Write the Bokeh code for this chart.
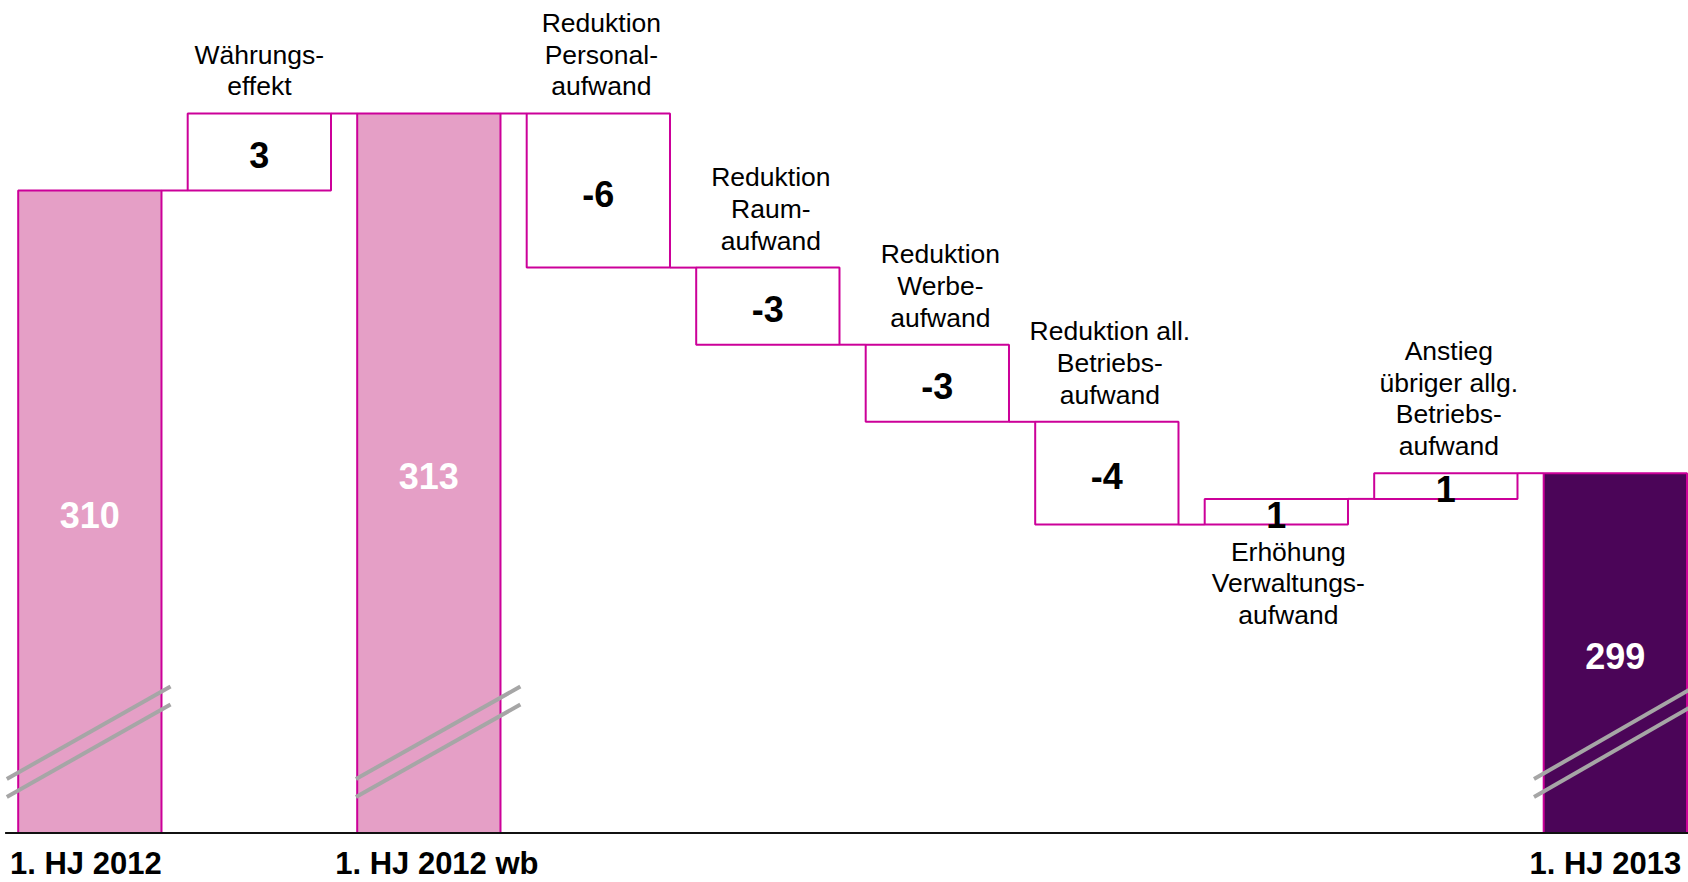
from bokeh.plotting import figure
from bokeh.models import ColumnDataSource, Range1d
from bokeh.core.properties import value
from bokeh.embed import file_html
from bokeh.resources import INLINE

# ---------------- data ----------------
categories = [
    "1. HJ 2012",
    "Währungs-\neffekt",
    "1. HJ 2012 wb",
    "Reduktion\nPersonal-\naufwand",
    "Reduktion\nRaum-\naufwand",
    "Reduktion\nWerbe-\naufwand",
    "Reduktion all.\nBetriebs-\naufwand",
    "Erhöhung\nVerwaltungs-\naufwand",
    "Anstieg\nübriger allg.\nBetriebs-\naufwand",
    "1. HJ 2013",
]
values = [310, 3, 313, -6, -3, -3, -4, 1, 1, 299]
is_total = [True, False, True, False, False, False, False, False, False, True]
label_below = [False, False, False, False, False, False, False, True, False, False]
axis_start = 285

# ---------------- style ----------------
FONT = "Liberation Sans"
PINK = "#E59FC6"
MAGENTA = "#CC0099"
DARK = "#4B0558"
GREY = "#A6A6A6"
BAR_W = 0.8454
LINE_H = 31.8      # px between label lines
GAP = 27           # px from box edge to nearest label line centre

n = len(values)
xs = list(range(n))

bottoms, tops, fills, levels = [], [], [], []
running = None
for i, v in enumerate(values):
    if is_total[i]:
        b, t = axis_start, v
        running = v
        fills.append(DARK if i == n - 1 else PINK)
    else:
        start = running
        running = running + v
        b, t = min(start, running), max(start, running)
        fills.append("white")
    bottoms.append(b)
    tops.append(t)
    levels.append(running)

p = figure(width=1688, height=882,
           x_range=Range1d(-0.5271, 9.4316), y_range=Range1d(283.074, 317.393),
           output_backend="svg", toolbar_location=None,
           x_axis_location=None, y_axis_location=None,
           min_border=0, min_border_left=0, min_border_right=0,
           min_border_top=0, min_border_bottom=0)
p.grid.visible = False
p.outline_line_color = None
p.background_fill_color = "white"

bars = ColumnDataSource(dict(x=xs, bottom=bottoms, top=tops, fill=fills))
p.vbar(x="x", width=BAR_W, bottom="bottom", top="top", fill_color="fill",
       line_color=MAGENTA, line_width=2, source=bars)

# connectors between consecutive elements
cx0 = [i + BAR_W / 2 for i in range(n - 1)]
cx1 = [i + 1 - BAR_W / 2 for i in range(n - 1)]
cy = levels[:-1]
p.segment(x0=cx0, y0=cy, x1=cx1, y1=cy, line_color=MAGENTA, line_width=2)

# baseline
p.segment(x0=[-0.5], y0=[axis_start], x1=[9.6], y1=[axis_start],
          line_color="#111111", line_width=2)

# axis-break marks on total bars
total_idx = [i for i in range(n) if is_total[i]]
brk_extent = {0: (-0.49, 0.476), 2: (-0.43, 0.54), 9: (-0.48, 0.47)}
bx0, bx1, by0, by1 = [], [], [], []
for i in total_idx:
    l, r = brk_extent[i]
    for (ya, yb) in [(287.1, 290.7), (286.4, 290.0)]:
        bx0.append(i + l); bx1.append(i + r)
        by0.append(ya); by1.append(yb)
p.segment(x0=bx0, y0=by0, x1=bx1, y1=by1, line_color=GREY, line_width=4)

# value labels
vsrc = ColumnDataSource(dict(
    x=xs,
    y=[(b + t) / 2 for b, t in zip(bottoms, tops)],
    text=[str(v) for v in values],
    color=["white" if is_total[i] else "black" for i in range(n)],
))
p.text(x="x", y="y", text="text", source=vsrc, text_color="color",
       text_font=value(FONT), text_font_style="bold", text_font_size="36px",
       text_align="center", text_baseline="middle", y_offset=3)

# category labels for deltas (one glyph per line)
lx, ly, lt, lyo, lxo = [], [], [], [], []
for i in range(n):
    if is_total[i]:
        continue
    lines = categories[i].split("\n")
    k = len(lines)
    for j, line in enumerate(lines):
        lx.append(i)
        lt.append(line)
        if label_below[i]:
            ly.append(bottoms[i])
            lyo.append(GAP + j * LINE_H)
            lxo.append(12)
        else:
            ly.append(tops[i])
            lyo.append(-(GAP + (k - 1 - j) * LINE_H))
            lxo.append(3 if i != 1 else 0)
lsrc = ColumnDataSource(dict(x=lx, y=ly, text=lt, yo=lyo, xo=lxo))
p.text(x="x", y="y", text="text", source=lsrc, x_offset="xo", y_offset="yo",
       text_font=value(FONT), text_font_size="26.5px", text_color="black",
       text_align="center", text_baseline="middle")

# bottom category labels for totals
bsrc = ColumnDataSource(dict(
    x=total_idx,
    y=[axis_start] * len(total_idx),
    text=[categories[i] for i in total_idx],
    xo=[-4, 8, -10],
))
p.text(x="x", y="y", text="text", source=bsrc, x_offset="xo", y_offset=30,
       text_font=value(FONT), text_font_style="bold", text_font_size="31px",
       text_color="black", text_align="center", text_baseline="middle")

open("out.html", "w").write(file_html(p, INLINE))
